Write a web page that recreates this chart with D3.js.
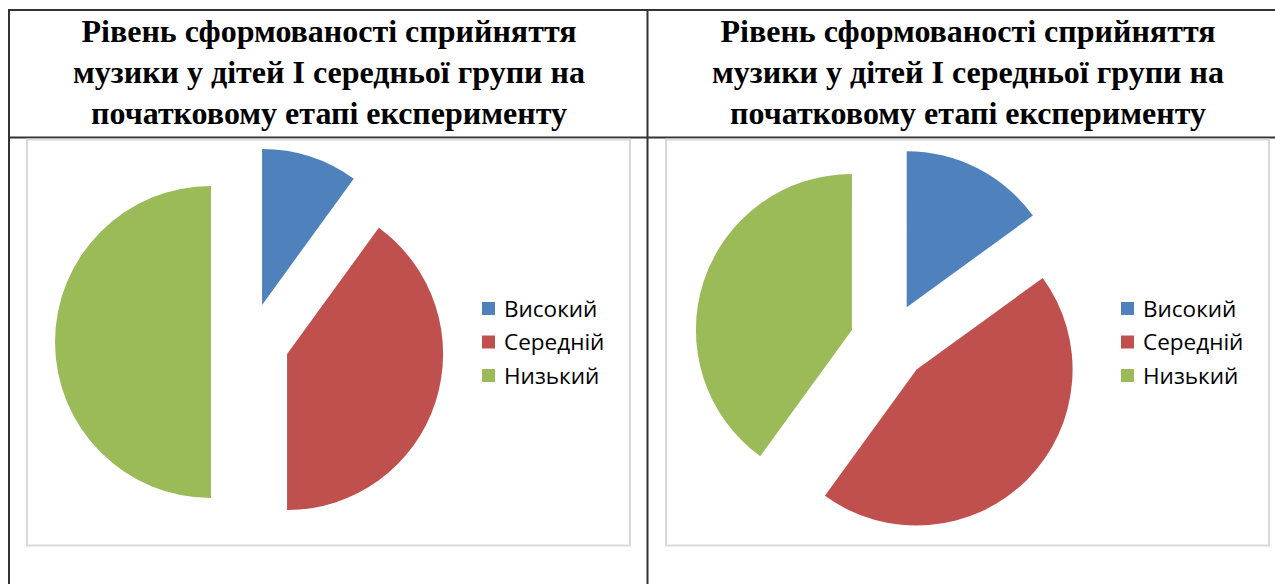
<!DOCTYPE html>
<html>
<head>
<meta charset="utf-8">
<script src="https://cdn.jsdelivr.net/npm/d3@7"></script>
<style>
  body { margin: 0; background: #fff; }
  .title { font-family: "Liberation Serif", "Times New Roman", serif; font-weight: bold; font-size: 32px; fill: #000; }
  .legend-label { font-family: "Open Sans", sans-serif; font-size: 22.5px; fill: #000; }
</style>
</head>
<body>
<div id="chart"></div>
<script>

// Data
const categories = ["Високий", "Середній", "Низький"];
const valuesLeft = [10, 40, 50];
const valuesRight = [15, 45, 40];
const colors = ["#4F81BD", "#C0504D", "#9BBB59"];
const titleLines = [
  "Рівень сформованості сприйняття",
  "музики у дітей І середньої групи на",
  "початковому етапі експерименту"
];


class PieChart {

  constructor(svg, cellX, values) {
    this.svg = svg;
    this.cellX = cellX;
    this.values = values;

    this.initVis();
  }

  initVis() {
    let vis = this;

    vis.g = vis.svg.append("g")
      .attr("transform", "translate(" + vis.cellX + ",0)");

    // Title (three lines)
    vis.g.selectAll(".title")
      .data(titleLines)
      .enter()
      .append("text")
      .attr("class", "title")
      .attr("x", 321)
      .attr("y", (d, i) => 42 + i * 41)
      .attr("text-anchor", "middle")
      .text(d => d);

    // Chart area frame
    vis.g.append("rect")
      .attr("x", 19)
      .attr("y", 139.5)
      .attr("width", 603)
      .attr("height", 406)
      .attr("fill", "#fff")
      .attr("stroke", "#d9d9d9")
      .attr("stroke-width", 2);

    vis.radius = 156;
    vis.explode = 39;
    vis.center = [242, 342];

    vis.pie = d3.pie()
      .sort(null)
      .value(d => d.value);

    vis.arc = d3.arc()
      .innerRadius(0)
      .outerRadius(vis.radius);

    vis.wrangleData();
  }

  wrangleData() {
    let vis = this;

    vis.displayData = categories.map((c, i) => ({ key: c, value: vis.values[i], color: colors[i] }));

    vis.updateVis();
  }

  updateVis() {
    let vis = this;

    let pieG = vis.g.append("g")
      .attr("transform", "translate(" + vis.center[0] + "," + vis.center[1] + ")");

    pieG.selectAll(".slice")
      .data(vis.pie(vis.displayData))
      .enter()
      .append("path")
      .attr("class", "slice")
      .attr("fill", d => d.data.color)
      .attr("transform", d => {
        let a = (d.startAngle + d.endAngle) / 2;
        return "translate(" + (Math.sin(a) * vis.explode) + "," + (-Math.cos(a) * vis.explode) + ")";
      })
      .attr("d", vis.arc);

    // Legend
    let legend = vis.g.selectAll(".legend")
      .data(vis.displayData)
      .enter()
      .append("g")
      .attr("class", "legend")
      .attr("transform", (d, i) => "translate(474," + (302 + i * 33.5) + ")");

    legend.append("rect")
      .attr("width", 13)
      .attr("height", 13)
      .attr("fill", d => d.color);

    legend.append("text")
      .attr("class", "legend-label")
      .attr("x", 22)
      .attr("y", 14.5)
      .text(d => d.key);
  }
}


let svg = d3.select("#chart")
  .append("svg")
  .attr("width", 1275)
  .attr("height", 584);

// Table borders
let tableLines = [
  [8, 10, 1290, 10],
  [8, 137.5, 1290, 137.5],
  [9, 10, 9, 584],
  [647.5, 10, 647.5, 584]
];
svg.selectAll(".grid")
  .data(tableLines)
  .enter()
  .append("line")
  .attr("class", "grid")
  .attr("x1", d => d[0])
  .attr("y1", d => d[1])
  .attr("x2", d => d[2])
  .attr("y2", d => d[3])
  .attr("stroke", "#333")
  .attr("stroke-width", 2);

new PieChart(svg, 8, valuesLeft);
new PieChart(svg, 647, valuesRight);

</script>
</body>
</html>
